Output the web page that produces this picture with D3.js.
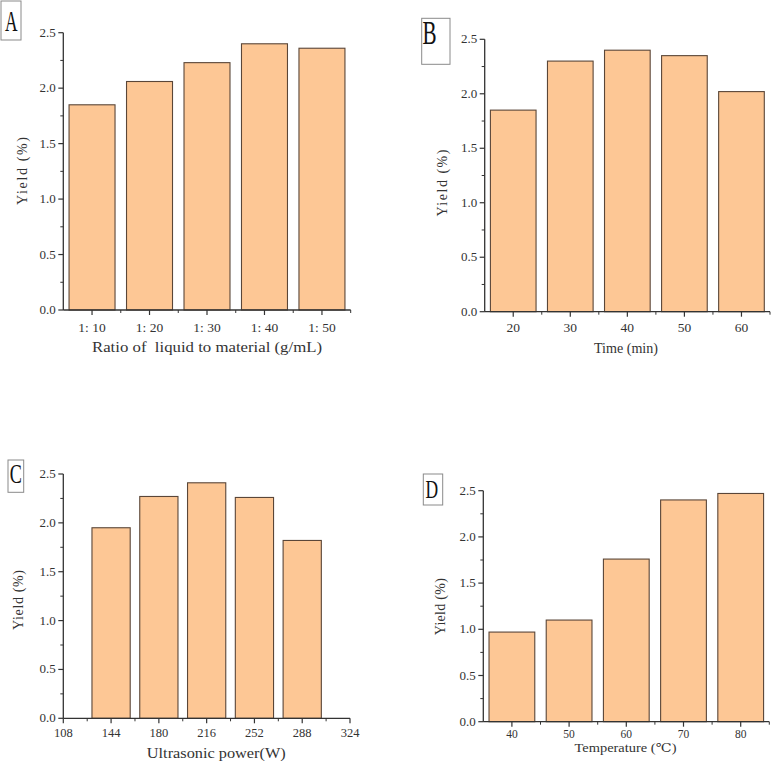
<!DOCTYPE html>
<html><head><meta charset="utf-8">
<script src="https://cdn.jsdelivr.net/npm/d3@7/dist/d3.min.js"></script>
<style>body{margin:0;background:#fff}svg{display:block}</style>
</head><body>
<svg id="c" width="772" height="761"></svg>
<script>
// ---- data ----
const categoriesA = ["1: 10", "1: 20", "1: 30", "1: 40", "1: 50"];
const valuesA = [1.85, 2.06, 2.23, 2.40, 2.36];
const categoriesB = ["20", "30", "40", "50", "60"];
const valuesB = [1.85, 2.30, 2.40, 2.35, 2.02];
const powersC = [144, 180, 216, 252, 288];
const valuesC = [1.95, 2.27, 2.41, 2.26, 1.82];
const ticksC = [108, 144, 180, 216, 252, 288, 324];
const categoriesD = ["40", "50", "60", "70", "80"];
const valuesD = [0.97, 1.10, 1.76, 2.40, 2.47];
const yTicks = [0, 0.5, 1.0, 1.5, 2.0, 2.5];
const panelLabels = ["A", "B", "C", "D"];
const xTitles = ["Ratio of  liquid to material (g/mL)", "Time (min)", "Ultrasonic power(W)", "Temperature (\u2103)"];
const yTitle = "Yield (%)";

const svg = d3.select("#c");
const FILL = "#FDC795", STROKE = "#5a4638", AXIS = "#333", TXT = "#333";
const FONT = "'Liberation Serif', 'DejaVu Serif', serif";

const panels = [
  {label:0, L:63.3, R:350.7, T:32.7, B:310, type:"band", cats:categoriesA, vals:valuesA,
   box:[1,1,20,39], letter:{x:5,y:30.7,size:29,sx:0.6},
   tickY:332, tickF:13.5, titleY:352, titleF:14.5, titleX:207, titleW:230, yT:{x:21.7,cy:171,w:68}},
  {label:1, L:484.7, R:770, T:39.3, B:311.7, type:"band", cats:categoriesB, vals:valuesB,
   box:[421.7,18.3,28.3,46], letter:{x:422.5,y:44.3,size:34,sx:0.62},
   tickY:332, tickF:13.5, titleY:352.5, titleF:14.5, titleX:626, titleW:64, yT:{x:441.7,cy:183,w:67}},
  {label:2, L:63.3, R:350, T:474, B:718.3, type:"linear", cats:powersC, vals:valuesC,
   box:[8,460,15.7,32.3], letter:{x:9.8,y:483.3,size:27.5,sx:0.66},
   tickY:736.5, tickF:12.5, titleY:757.5, titleF:14.5, titleX:216.3, titleW:139, yT:{x:18.3,cy:600,w:60}},
  {label:3, L:483.3, R:769.3, T:490.7, B:721.7, type:"band", cats:categoriesD, vals:valuesD,
   box:[423.3,474,19.4,31], letter:{x:425.6,y:498.3,size:25,sx:0.7},
   tickY:737.5, tickF:11.5, titleY:751.5, titleF:12.5, titleX:625.5, titleW:102, yT:{x:440,cy:606.7,w:57}}
];

panels.forEach(p => {
  const g = svg.append("g");
  const y = d3.scaleLinear().domain([0, 2.5]).range([p.B, p.T]);
  let xPos, bw, majorX = [], minorX = [], labels = [];
  if (p.type === "band") {
    const x = d3.scaleBand().domain(p.cats).range([p.L, p.R]).paddingInner(0.2).paddingOuter(0.1);
    const xb = d3.scaleBand().domain(p.cats).range([p.L, p.R]).padding(0);
    xPos = (d, i) => x(p.cats[i]);
    bw = x.bandwidth();
    p.cats.forEach((c, i) => { majorX.push(xb(c) + xb.bandwidth() / 2); labels.push(c); });
    p.cats.forEach((c, i) => { if (i > 0) minorX.push(xb(c)); });
    minorX.push(p.R);
  } else {
    const x = d3.scaleLinear().domain([108, 324]).range([p.L, p.R]);
    const w = 36 * 0.8;
    xPos = (d, i) => x(p.cats[i] - w / 2);
    bw = x(108 + w) - x(108);
    ticksC.forEach(t => { majorX.push(x(t)); labels.push(String(t)); });
    ticksC.slice(0, -1).forEach(t => minorX.push(x(t + 18)));
  }
  // bars
  g.selectAll("rect.bar").data(p.vals).join("rect")
    .attr("x", (d, i) => xPos(d, i)).attr("width", bw)
    .attr("y", d => y(d)).attr("height", d => p.B - y(d))
    .attr("fill", FILL).attr("stroke", STROKE).attr("stroke-width", 1.1);
  // y axis
  g.append("line").attr("x1", p.L).attr("x2", p.L).attr("y1", p.T).attr("y2", p.B)
    .attr("stroke", AXIS).attr("stroke-width", 1.3);
  yTicks.forEach(t => {
    g.append("line").attr("x1", p.L - 5).attr("x2", p.L).attr("y1", y(t)).attr("y2", y(t)).attr("stroke", AXIS).attr("stroke-width", 1.2);
    g.append("text").attr("x", p.L - 7.5).attr("y", y(t) + 4).attr("text-anchor", "end")
      .attr("font-family", FONT).attr("font-size", 13).attr("fill", TXT).text(d3.format(".1f")(t));
  });
  yTicks.slice(0, -1).forEach(t => {
    g.append("line").attr("x1", p.L - 3).attr("x2", p.L).attr("y1", y(t + 0.25)).attr("y2", y(t + 0.25)).attr("stroke", AXIS).attr("stroke-width", 1);
  });
  // x axis
  g.append("line").attr("x1", p.L).attr("x2", p.R).attr("y1", p.B).attr("y2", p.B)
    .attr("stroke", AXIS).attr("stroke-width", 1.3);
  majorX.forEach((xx, i) => {
    g.append("line").attr("x1", xx).attr("x2", xx).attr("y1", p.B).attr("y2", p.B + 5).attr("stroke", AXIS).attr("stroke-width", 1.2);
    g.append("text").attr("x", xx).attr("y", p.tickY).attr("text-anchor", "middle")
      .attr("font-family", FONT).attr("font-size", p.tickF).attr("fill", TXT).text(labels[i]);
  });
  minorX.forEach(xx => {
    g.append("line").attr("x1", xx).attr("x2", xx).attr("y1", p.B).attr("y2", p.B + 3).attr("stroke", AXIS).attr("stroke-width", 1);
  });
  // axis titles
  g.append("text").attr("x", p.titleX).attr("y", p.titleY).attr("text-anchor", "middle")
    .attr("font-family", FONT).attr("font-size", p.titleF).attr("fill", TXT)
    .attr("textLength", p.titleW).attr("lengthAdjust", "spacingAndGlyphs")
    .style("white-space", "pre").text(xTitles[p.label]);
  g.append("text").attr("transform", `translate(${p.yT.x + 5},${p.yT.cy}) rotate(-90)`)
    .attr("text-anchor", "middle").attr("font-family", FONT).attr("font-size", 14).attr("fill", TXT)
    .attr("textLength", p.yT.w).attr("lengthAdjust", "spacing").text(yTitle);
  // panel letter box
  g.append("rect").attr("x", p.box[0]).attr("y", p.box[1]).attr("width", p.box[2]).attr("height", p.box[3])
    .attr("fill", "none").attr("stroke", "#8a8a8a").attr("stroke-width", 1);
  g.append("text").attr("transform", `translate(${p.letter.x},${p.letter.y}) scale(${p.letter.sx},1)`)
    .attr("font-family", FONT).attr("font-size", p.letter.size).attr("fill", "#111").text(panelLabels[p.label]);
});
</script>
</body></html>
